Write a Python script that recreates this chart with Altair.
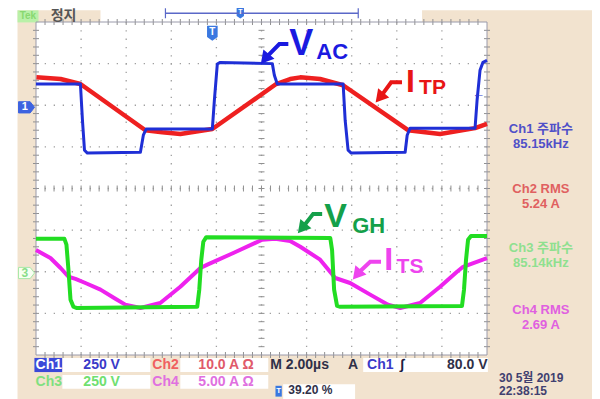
import altair as alt
import pandas as pd

# ---------------- waveform data: time in µs (2 µs/div), level in screen divisions ----------------
ch1_t = [0.0, 1.97, 2.06, 2.15, 2.28, 4.63, 4.76, 4.89, 7.82, 7.91, 8.04, 8.17, 10.48, 10.57, 10.70,
         13.62, 13.71, 13.84, 13.98, 16.37, 16.46, 16.59, 19.47, 19.56, 19.69, 19.82, 20.0]
ch1_v = [2.51, 2.51, 1.64, 0.92, 0.85, 0.87, 1.28, 1.43, 1.43, 2.12, 2.99, 3.03, 3.00, 2.72, 2.51,
         2.51, 1.64, 0.92, 0.85, 0.87, 1.28, 1.45, 1.45, 2.12, 2.84, 3.03, 3.08]

ch2_t = [0.02, 1.09, 1.97, 4.85, 5.60, 6.40, 7.82, 10.65, 11.27, 11.72, 12.60, 13.62, 16.50, 17.92, 19.47, 20.0]
ch2_v = [2.67, 2.63, 2.51, 1.40, 1.35, 1.31, 1.43, 2.51, 2.63, 2.67, 2.63, 2.48, 1.40, 1.31, 1.45, 1.55]

ch3_t = [0.0, 1.26, 1.35, 1.44, 1.53, 1.66, 1.79, 7.15, 7.24, 7.33, 7.42, 7.55, 13.05, 13.13, 13.22,
         13.35, 13.49, 18.89, 18.98, 19.07, 19.16, 19.29, 20.0]
ch3_v = [-1.21, -1.21, -1.35, -1.96, -2.67, -2.84, -2.87, -2.84, -2.43, -1.71, -1.28, -1.17, -1.19, -1.48, -2.43,
         -2.82, -2.84, -2.82, -2.43, -1.71, -1.23, -1.14, -1.14]

ch4_t = [0.0, 0.64, 1.09, 1.44, 1.75, 2.19, 2.86, 3.52, 3.96, 4.63, 5.51, 6.40, 7.29, 7.60, 8.75, 10.03,
         10.61, 11.27, 11.72, 12.60, 13.27, 13.93, 14.82, 15.61, 16.15, 17.03, 17.92, 18.67, 18.94, 20.0]
ch4_v = [-1.48, -1.67, -1.91, -2.12, -2.17, -2.27, -2.43, -2.65, -2.79, -2.87, -2.75, -2.36, -1.91, -1.83, -1.55, -1.23,
         -1.21, -1.26, -1.40, -1.71, -2.15, -2.27, -2.55, -2.79, -2.87, -2.75, -2.36, -2.00, -1.88, -1.67]

trace_colors = {"ch2": "#ee2020", "ch1": "#1f2fd6", "ch4": "#ee22ee", "ch3": "#22dd22"}
trace_widths = {"ch2": 4.5, "ch1": 3.0, "ch4": 4.0, "ch3": 4.0}

# ---------------- screen furniture (data units) ----------------
rect_t  = [-0.82, 2.86, 0.0, -0.82, -0.07, 1.17, 6.40, 1.17, 6.40, 14.51, 10.96, 10.62]
rect_t2 = [24.9, 17.12, 20.0, 0.11, 1.17, 5.07, 10.30, 5.07, 10.30, 20.04, 14.15, 10.90]
rect_v  = [4.28, 3.99, 4.0, 4.28, -4.07, -4.07, -4.07, -4.48, -4.48, -4.07, -4.70, -4.74]
rect_v2 = [-5.4, 4.7, -4.0, 3.99, -4.41, -4.41, -4.41, -4.81, -4.81, -4.41, -5.4, -5.0]
rect_fill = ["#f2e3cf", "#ffffff", "#ffffff", "#b9f0a8", "#3b48d8", "#ffffff", "#ffffff",
             "#ffffff", "#ffffff", "#ffffff", "#ffffff", "#3a78e0"]

grid_t = [2, 4, 6, 8, 10, 12, 14, 16, 18]
grid_v = [-3, -2, -1, 0, 1, 2, 3]

# annotation labels: text, t, v, colour, size
label_text = ["V", "AC", "I", "TP", "V", "GH", "I", "TS"]
label_t = [11.23, 12.43, 16.41, 16.99, 12.78, 14.02, 15.44, 15.99]
label_v = [3.20, 3.11, 2.32, 2.27, -0.92, -1.07, -1.95, -2.03]
label_color = ["#1a1ae0", "#1a1ae0", "#e81515", "#e81515", "#14a04a", "#14a04a", "#ee44ee", "#ee44ee"]
label_size = [36, 22, 32, 21, 34, 22, 32, 21]

# arrows: id, t, v
arrow_id = ["a", "a", "a", "b", "b", "b", "c", "c", "c", "d", "d", "d"]
arrow_t = [11.19, 10.79, 10.21, 16.23, 15.75, 15.30, 12.69, 12.29, 11.85, 15.30, 14.82, 14.29]
arrow_v = [3.47, 3.47, 3.15, 2.55, 2.55, 2.22, -0.61, -0.61, -0.92, -1.76, -1.76, -2.03]
arrow_color = {"a": "#1a1ae0", "b": "#e81515", "c": "#14a04a", "d": "#ee44ee"}

# right-hand measurement panel
panel_text = ["Ch1 주파수", "85.15kHz", "Ch2 RMS", "5.24 A", "Ch3 주파수", "85.14kHz", "Ch4 RMS", "2.69 A"]
panel_v = [1.43, 1.06, -0.01, -0.38, -1.43, -1.80, -2.91, -3.28]
panel_color = ["#5050c8", "#5050c8", "#e06060", "#e06060", "#8fe08f", "#8fe08f", "#e060e0", "#e060e0"]

# bottom status lines
status_text = ["Ch1", "250 V", "Ch2", "10.0 A Ω", "M 2.00µs", "A", "Ch1", "∫", "80.0 V",
               "Ch3", "250 V", "Ch4", "5.00 A Ω"]
status_t = [-0.02, 2.10, 5.16, 7.20, 10.39, 13.84, 14.68, 16.15, 18.23,
            -0.02, 2.10, 5.16, 7.20]
status_v = [-4.23] * 9 + [-4.64] * 4
status_color = ["#ffffff", "#3a3ac8", "#f06060", "#e05a6a", "#303048", "#303048", "#3a3ac8", "#202040", "#303048",
                "#80e080", "#70e070", "#e070e0", "#e070e0"]

foot_text = ["39.20 %", "30 5월 2019", "22:38:15"]
foot_t = [11.19, 20.53, 20.53]
foot_v = [-4.85, -4.55, -4.86]
foot_color = ["#303048", "#404070", "#404070"]

xs = alt.Scale(domain=[0, 20], nice=False, zero=False)
ys = alt.Scale(domain=[-4, 4], nice=False, zero=False)


def X(f="t"):
    return alt.X(f"{f}:Q", scale=xs, axis=None)


def Y(f="v"):
    return alt.Y(f"{f}:Q", scale=ys, axis=None)


layers = []

# backgrounds
rects = pd.DataFrame({"t": rect_t, "t2": rect_t2, "v": rect_v, "v2": rect_v2, "fill": rect_fill})
layers.append(alt.Chart(rects).mark_rect().encode(
    x=X(), x2="t2:Q", y=Y(), y2="v2:Q", color=alt.Color("fill:N", scale=None)))

# dotted graticule
layers.append(alt.Chart(pd.DataFrame({"t": grid_t})).mark_rule(
    color="#a0a0a0", strokeDash=[1.3, 7.0], strokeWidth=1.3).encode(x=X()))
layers.append(alt.Chart(pd.DataFrame({"v": grid_v})).mark_rule(
    color="#a0a0a0", strokeDash=[1.3, 7.7], strokeWidth=1.3).encode(y=Y()))

# minor ticks on centre lines and border
xt = [k * 0.4 for k in range(1, 50)]
yt = [-4 + k * 0.2 for k in range(1, 40)]
vt = pd.DataFrame({"t": xt * 3, "v": [0.0] * len(xt) + [4.0] * len(xt) + [-4.0] * len(xt)})
ht = pd.DataFrame({"v": yt * 3, "t": [10.0] * len(yt) + [0.0] * len(yt) + [20.0] * len(yt)})
layers.append(alt.Chart(vt).mark_tick(orient="vertical", size=6, thickness=1, color="#909090", opacity=1)
              .encode(x=X(), y=Y()))
layers.append(alt.Chart(ht).mark_tick(orient="horizontal", size=6, thickness=1, color="#909090", opacity=1)
              .encode(x=X(), y=Y()))

# graticule border
layers.append(alt.Chart(pd.DataFrame({"t": [0], "t2": [20], "v": [-4], "v2": [4]})).mark_rect(
    filled=False, stroke="#9a9aaa", strokeWidth=1).encode(x=X(), x2="t2:Q", y=Y(), y2="v2:Q"))

# traces
for name, tt, vv in [("ch2", ch2_t, ch2_v), ("ch1", ch1_t, ch1_v), ("ch4", ch4_t, ch4_v), ("ch3", ch3_t, ch3_v)]:
    layers.append(alt.Chart(pd.DataFrame({"t": tt, "v": vv})).mark_line(
        color=trace_colors[name], strokeWidth=trace_widths[name], strokeJoin="round").encode(x=X(), y=Y()))

# arrows
arr = pd.DataFrame({"id": arrow_id, "t": arrow_t, "v": arrow_v, "o": list(range(len(arrow_id)))})
arr["c"] = arr["id"].map(arrow_color)
layers.append(alt.Chart(arr).mark_line(strokeWidth=4).encode(
    x=X(), y=Y(), detail="id:N", order="o:Q", color=alt.Color("c:N", scale=None)))
heads = arr.groupby("id").tail(1)
layers.append(alt.Chart(heads).mark_point(shape="triangle", filled=True, size=210, opacity=1, angle=220).encode(
    x=X(), y=Y(), color=alt.Color("c:N", scale=None)))

# channel markers and trigger markers
mk = pd.DataFrame({"t": [-0.42, -0.42], "v": [1.95, -2.03], "f": ["#3d63e0", "#f8fff2"], "s": ["#3d63e0", "#a8e8a8"]})
layers.append(alt.Chart(mk).mark_point(shape="M-1,-0.7L0.45,-0.7L1,0L0.45,0.7L-1,0.7Z", filled=True,
                                       size=256, opacity=1, strokeWidth=1).encode(
    x=X(), y=Y(), fill=alt.Fill("f:N", scale=None), stroke=alt.Stroke("s:N", scale=None)))
tm = pd.DataFrame({"t": [7.82, 9.06], "v": [3.73, 4.21], "sz": [230, 110]})
layers.append(alt.Chart(tm).mark_point(shape="M-0.7,-1L0.7,-1L0.7,0.5L0,1L-0.7,0.5Z", filled=True,
                                       color="#3a78e0", opacity=1).encode(
    x=X(), y=Y(), size=alt.Size("sz:Q", scale=None)))

# top bar
layers.append(alt.Chart(pd.DataFrame({"t": [5.74], "t2": [14.29], "v": [4.21]})).mark_rule(
    color="#5a68c8", strokeWidth=1.5).encode(x=X(), x2="t2:Q", y=Y()))
layers.append(alt.Chart(pd.DataFrame({"t": [5.74, 14.29], "v": [4.09, 4.09], "v2": [4.33, 4.33]})).mark_rule(
    color="#5a68c8", strokeWidth=1.2).encode(x=X(), y=Y(), y2="v2:Q"))

# annotation labels
lab = pd.DataFrame({"text": label_text, "t": label_t, "v": label_v, "c": label_color, "s": label_size})
layers.append(alt.Chart(lab).mark_text(align="left", baseline="alphabetic", font="Liberation Sans",
                                       fontWeight="bold").encode(
    x=X(), y=Y(), text="text:N", color=alt.Color("c:N", scale=None), size=alt.Size("s:Q", scale=None)))

# right panel
pan = pd.DataFrame({"text": panel_text, "t": [22.39] * len(panel_text), "v": panel_v, "c": panel_color})
layers.append(alt.Chart(pan).mark_text(align="center", baseline="middle", fontSize=13, fontWeight="bold",
                                       font="Liberation Sans, Noto Sans CJK KR").encode(
    x=X(), y=Y(), text="text:N", color=alt.Color("c:N", scale=None)))

# status lines
st = pd.DataFrame({"text": status_text, "t": status_t, "v": status_v, "c": status_color})
layers.append(alt.Chart(st).mark_text(align="left", baseline="middle", fontSize=14, fontWeight="bold",
                                      font="Liberation Sans, Noto Sans CJK KR").encode(
    x=X(), y=Y(), text="text:N", color=alt.Color("c:N", scale=None)))

# trigger position / date / time
ft = pd.DataFrame({"text": foot_text, "t": foot_t, "v": foot_v, "c": foot_color})
layers.append(alt.Chart(ft).mark_text(align="left", baseline="middle", fontSize=12, fontWeight="bold",
                                      font="Liberation Sans, Noto Sans CJK KR").encode(
    x=X(), y=Y(), text="text:N", color=alt.Color("c:N", scale=None)))

# small glyphs
misc = pd.DataFrame({
    "text": ["정지", "Tek", "1", "3", "T", "T", "←", "T"],
    "t": [1.22, -0.36, -0.50, -0.50, 7.82, 9.06, 19.62, 10.76],
    "v": [4.14, 4.14, 1.95, -2.03, 3.77, 4.23, 2.27, -4.87],
    "c": ["#555555", "#88d870", "#ffffff", "#88dd88", "#ffffff", "#ffffff", "#3040d0", "#ffffff"],
    "s": [14, 10, 11, 12, 10, 7, 13, 8],
})
layers.append(alt.Chart(misc).mark_text(align="center", baseline="middle", fontWeight="bold",
                                        font="Liberation Sans, Noto Sans CJK KR").encode(
    x=X(), y=Y(), text="text:N", color=alt.Color("c:N", scale=None), size=alt.Size("s:Q", scale=None)))

chart = alt.layer(*layers).properties(
    width=451, height=333,
    padding={"left": 28, "top": 14, "right": 105, "bottom": 44},
    autosize="none", background="white",
).configure_view(stroke=None)

chart.save("out.html", embed_options={"renderer": "svg", "actions": False})
